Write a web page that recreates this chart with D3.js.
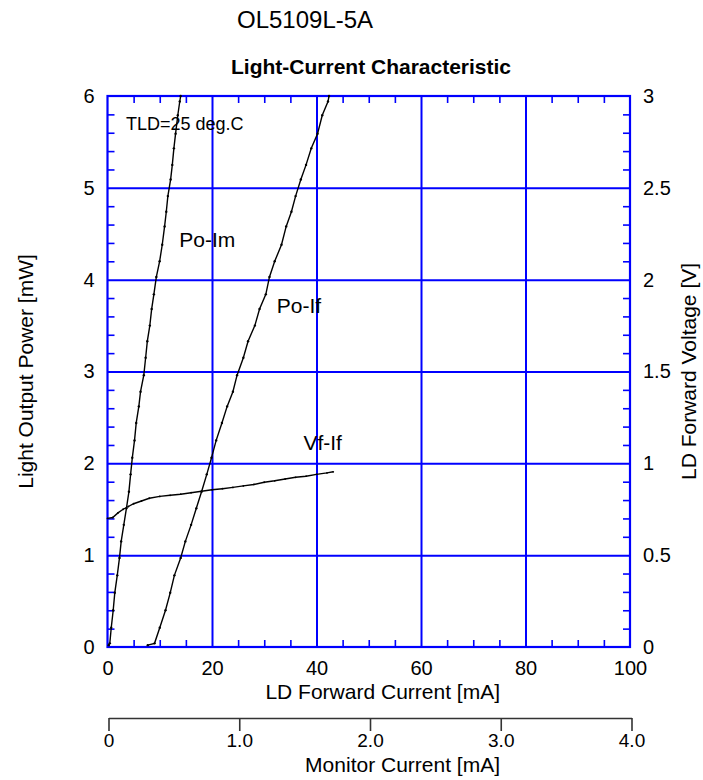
<!DOCTYPE html>
<html><head><meta charset="utf-8">
<script src="https://cdn.jsdelivr.net/npm/d3@7"></script>
<style>
body{margin:0;background:#fff}
svg{display:block}
text{font-family:"Liberation Sans",Arial,Helvetica,sans-serif;fill:#000}
</style>
</head><body>
<svg id="chart" width="703" height="780"></svg>
<script>
// ---- data ----
const poPower = [0.02,0.04,0.21,0.40,0.59,0.78,0.97,1.15,1.33,1.51,1.69,1.88,2.06,2.25,2.44,2.62,2.78,2.96,3.15,3.33,3.50,3.68,3.84,4.03,4.20,4.38,4.58,4.74,4.91,5.09,5.25,5.43,5.59,5.79,5.94,6.00];
const ldCurrent = [7.7,9.0,10.0,11.1,12.0,12.8,14.0,14.9,16.0,17.0,18.0,19.0,19.9,20.8,21.9,22.9,24.0,24.8,26.0,26.9,28.2,29.1,30.3,31.0,32.0,33.3,34.2,35.2,36.0,37.0,38.0,39.0,40.2,41.1,42.2,42.4];
const monCurrent = [0.002,0.010,0.021,0.036,0.048,0.067,0.084,0.097,0.117,0.137,0.156,0.169,0.182,0.199,0.212,0.232,0.245,0.270,0.284,0.297,0.316,0.330,0.347,0.366,0.391,0.411,0.429,0.442,0.454,0.475,0.488,0.500,0.513,0.530,0.545,0.552];
const vfCurrent = [0,1.0,2.0,3.0,4.0,5.0,6.5,8.0,10.0,12.0,14.0,16.0,18.0,20.0,22.0,24.0,26.0,28.0,30.0,32.0,34.0,36.0,38.0,40.0,42.0,43.2];
const vfVoltage = [0.70,0.705,0.73,0.75,0.765,0.78,0.795,0.81,0.82,0.826,0.832,0.84,0.848,0.856,0.862,0.869,0.877,0.885,0.897,0.905,0.915,0.924,0.93,0.94,0.948,0.954];

const xTicks = [0,20,40,60,80,100];
const yTicks = [0,1,2,3,4,5,6];
const yRTicks = [0,0.5,1,1.5,2,2.5,3];
const yRLabels = ["0","0.5","1","1.5","2","2.5","3"];
const monTicks = [0,1,2,3,4];
const monLabels = ["0","1.0","2.0","3.0","4.0"];

const topTitle = "OL5109L-5A";
const chartTitle = "Light-Current Characteristic";
const xTitle = "LD Forward Current [mA]";
const monTitle = "Monitor Current [mA]";
const yTitle = "Light Output Power [mW]";
const yRTitle = "LD Forward Voltage [V]";
const note = "TLD=25 deg.C";
const curveLabels = [
  {text:"Po-Im", x:13.75, y:4.36},
  {text:"Po-If", x:32.4, y:3.64},
  {text:"Vf-If", x:37.5, y:2.145}
];

// ---- layout ----
const L = 107.5, R = 630, T = 96, B = 647;
const BLUE = "#0000ff";
const svg = d3.select("#chart");
svg.append("rect").attr("width",703).attr("height",780).attr("fill","#fff");

const x = d3.scaleLinear().domain([0,100]).range([L,R]);
const y = d3.scaleLinear().domain([0,6]).range([B,T]);
const yR = d3.scaleLinear().domain([0,3]).range([B,T]);
const xm = d3.scaleLinear().domain([0,4]).range([L+1,R+1.5]);

function styleAxis(g, color, width){
  g.select(".domain").remove();
  g.selectAll(".tick line").attr("stroke",color).attr("stroke-width",width);
  g.selectAll(".tick text").attr("font-size",20).attr("fill","#000");
}

// grid lines
svg.append("g").attr("transform",`translate(0,${B})`)
  .call(d3.axisBottom(x).tickValues([20,40,60,80]).tickSize(-(B-T)).tickFormat(""))
  .call(g=>styleAxis(g,BLUE,2));
svg.append("g").attr("transform",`translate(${L},0)`)
  .call(d3.axisLeft(y).tickValues([1,2,3,4,5]).tickSize(-(R-L)).tickFormat(""))
  .call(g=>styleAxis(g,BLUE,2));

// minor ticks (inward)
const xMinor = d3.range(5,100,5).filter(v=>v%20!==0);
const yMinor = d3.range(1,30).map(v=>v/5).filter(v=>Math.abs(v-Math.round(v))>1e-6);
svg.append("g").attr("transform",`translate(0,${B})`)
  .call(d3.axisBottom(x).tickValues(xMinor).tickSize(-7).tickFormat(""))
  .call(g=>styleAxis(g,BLUE,1.6));
svg.append("g").attr("transform",`translate(0,${T})`)
  .call(d3.axisTop(x).tickValues(xMinor).tickSize(-7).tickFormat(""))
  .call(g=>styleAxis(g,BLUE,1.6));
svg.append("g").attr("transform",`translate(${L},0)`)
  .call(d3.axisLeft(y).tickValues(yMinor).tickSize(-7).tickFormat(""))
  .call(g=>styleAxis(g,BLUE,1.6));
svg.append("g").attr("transform",`translate(${R},0)`)
  .call(d3.axisRight(y).tickValues(yMinor).tickSize(-7).tickFormat(""))
  .call(g=>styleAxis(g,BLUE,1.6));

// frame
svg.append("rect").attr("x",L).attr("y",T).attr("width",R-L).attr("height",B-T)
  .attr("fill","none").attr("stroke",BLUE).attr("stroke-width",2.2);

// tick labels
svg.append("g").attr("transform",`translate(0,${B})`)
  .call(d3.axisBottom(x).tickValues(xTicks).tickSize(0).tickPadding(14).tickFormat(d3.format("d")))
  .call(g=>styleAxis(g,BLUE,0));
svg.append("g").attr("transform",`translate(${L},0)`)
  .call(d3.axisLeft(y).tickValues(yTicks).tickSize(0).tickPadding(13).tickFormat(d3.format("d")))
  .call(g=>styleAxis(g,BLUE,0));
svg.append("g").attr("transform",`translate(${R},0)`)
  .call(d3.axisRight(yR).tickValues(yRTicks).tickSize(0).tickPadding(13).tickFormat((d,i)=>yRLabels[i]))
  .call(g=>styleAxis(g,BLUE,0));

// monitor axis
const monAxisY = 718;
const mg = svg.append("g").attr("transform",`translate(0,${monAxisY})`)
  .call(d3.axisBottom(xm).tickValues(monTicks).tickSize(13).tickSizeOuter(0).tickPadding(3).tickFormat((d,i)=>monLabels[i]));
mg.select(".domain").attr("stroke","#333").attr("stroke-width",1.6);
mg.selectAll(".tick line").attr("stroke","#333").attr("stroke-width",1.6);
mg.selectAll(".tick text").attr("font-size",19).attr("fill","#000");

// curves
const line = d3.line().x(d=>d[0]).y(d=>d[1]);
const poIf = ldCurrent.map((v,i)=>[x(v), y(poPower[i])]);
const poIm = monCurrent.map((v,i)=>[xm(v), y(poPower[i])]);
const vfIf = vfCurrent.map((v,i)=>[x(v), yR(vfVoltage[i])]);
[poIf, poIm, vfIf].forEach((pts,k)=>{
  svg.append("path").attr("d",line(pts)).attr("fill","none").attr("stroke","#000").attr("stroke-width",1.4);
  svg.append("g").selectAll("circle").data(pts).join("circle")
    .attr("cx",d=>d[0]).attr("cy",d=>d[1]).attr("r",k===2?0.9:1.2).attr("fill","#000");
});

// texts
svg.append("text").attr("x",237).attr("y",28).attr("font-family","'Liberation Serif','Times New Roman',serif")
  .attr("font-size",24).text(topTitle);
svg.append("text").attr("x",231).attr("y",74).attr("font-size",21).attr("font-weight","bold").text(chartTitle);
svg.append("text").attr("x",126).attr("y",130).attr("font-size",18).text(note);
curveLabels.forEach(c=>{
  svg.append("text").attr("x",x(c.x)).attr("y",y(c.y)).attr("font-size",21).text(c.text);
});
svg.append("text").attr("x",500).attr("y",699).attr("text-anchor","end").attr("font-size",21).text(xTitle);
svg.append("text").attr("x",500).attr("y",772).attr("text-anchor","end").attr("font-size",21).text(monTitle);
svg.append("text").attr("transform",`translate(33,${(T+B)/2}) rotate(-90)`).attr("text-anchor","middle")
  .attr("font-size",21).text(yTitle);
svg.append("text").attr("transform",`translate(696,${(T+B)/2}) rotate(-90)`).attr("text-anchor","middle")
  .attr("font-size",21).text(yRTitle);
</script>
</body></html>
